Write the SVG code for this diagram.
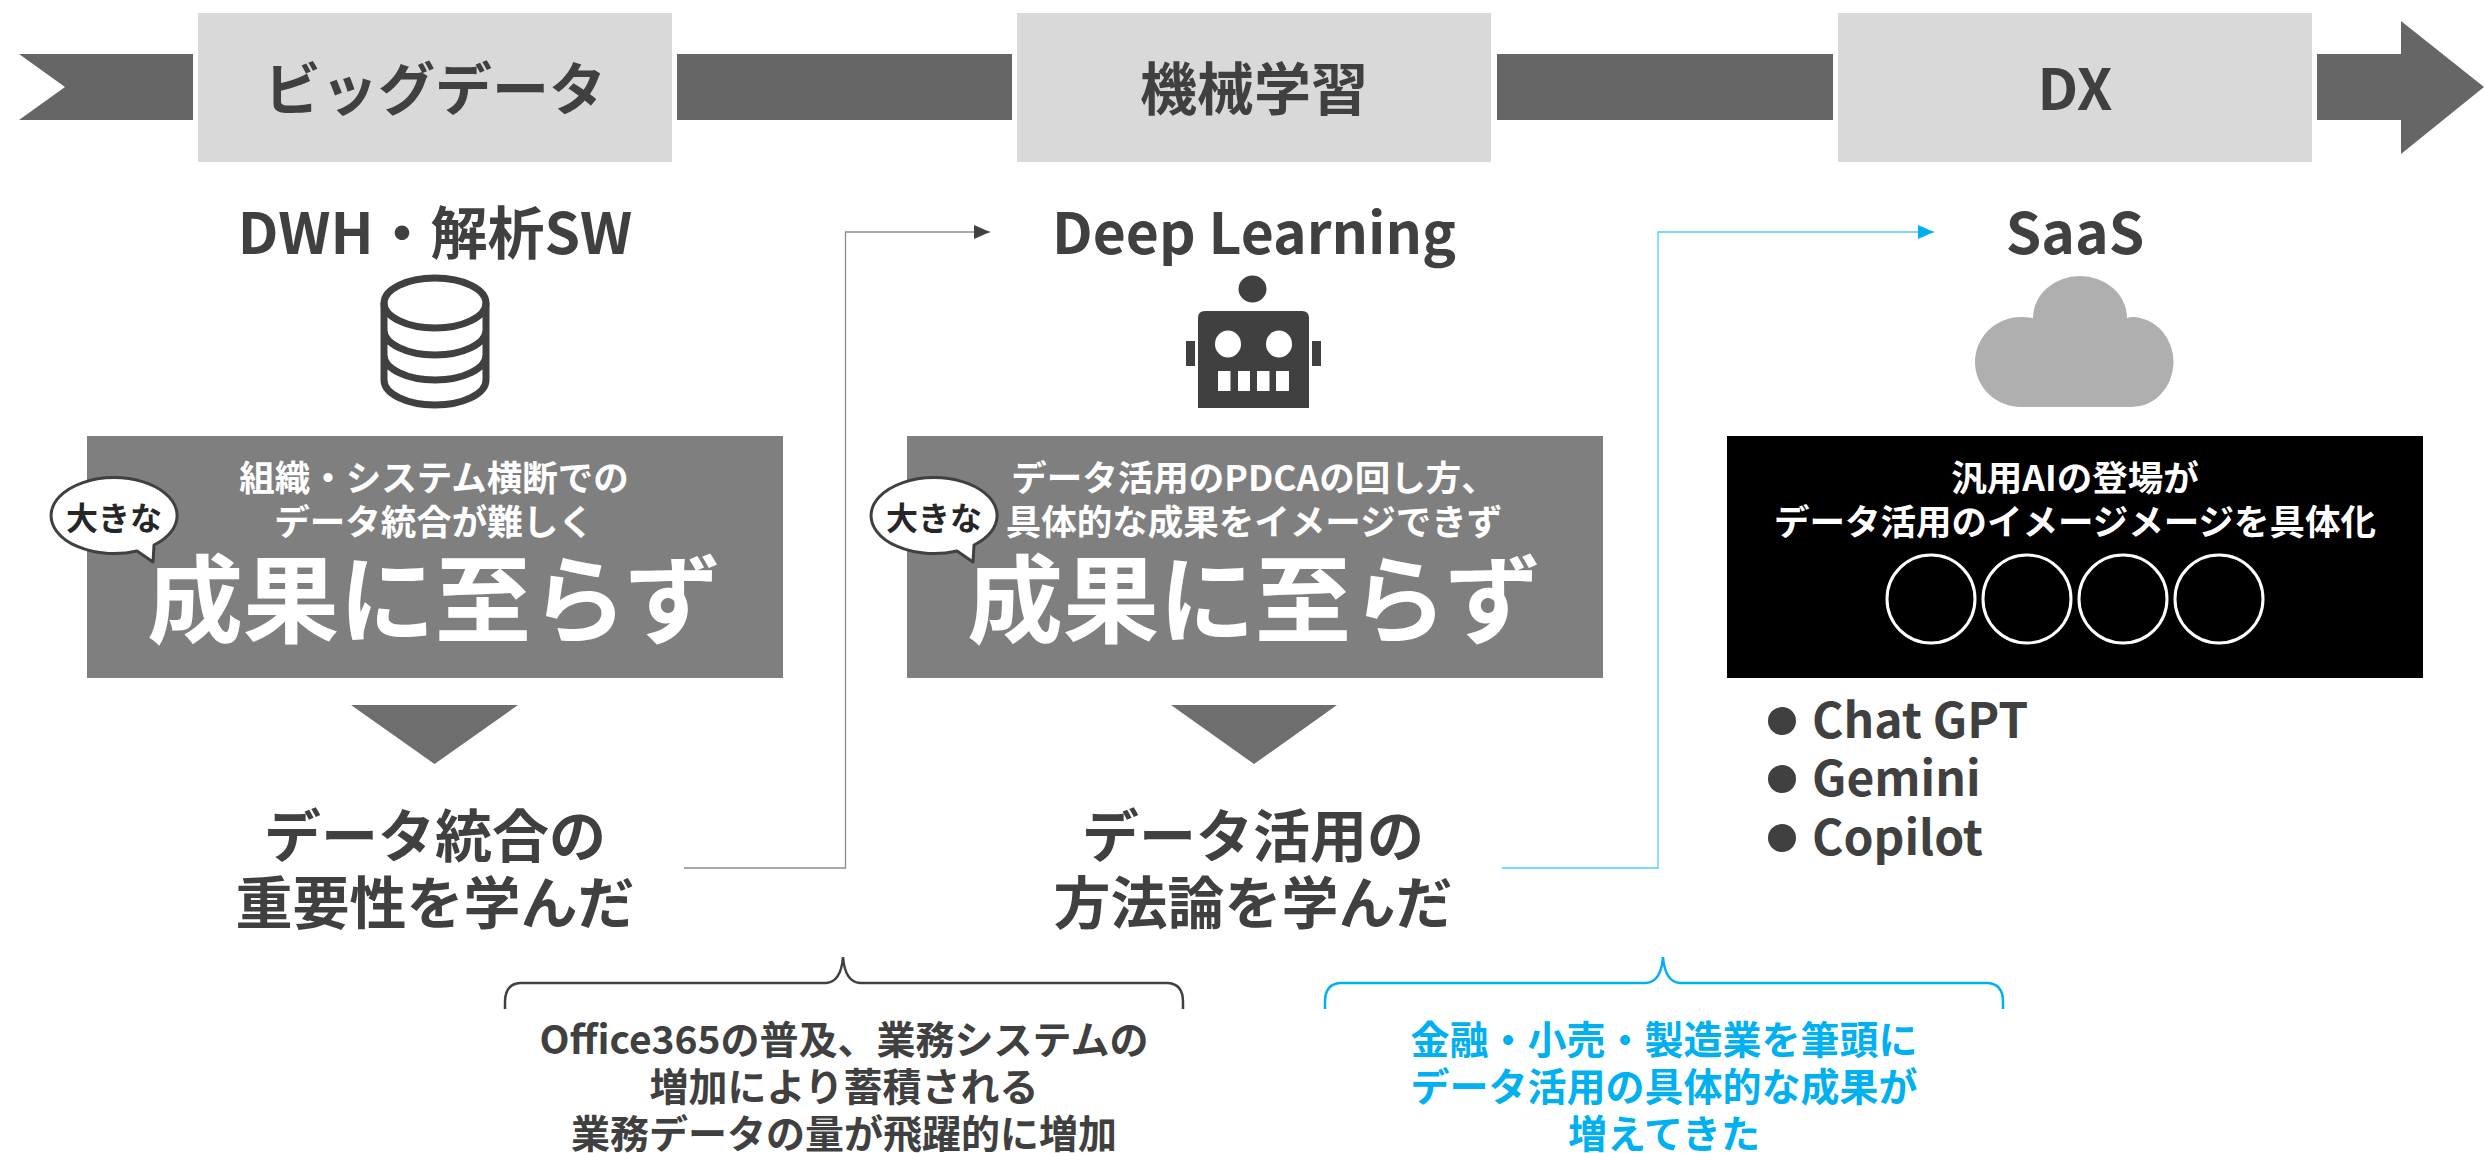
<svg xmlns="http://www.w3.org/2000/svg" width="2484" height="1153" viewBox="0 0 2484 1153">
<style>
text{font-family:"Noto Sans CJK JP","Noto Sans",sans-serif;font-weight:700;text-anchor:middle;fill:#404040}
.h{font-size:57px}
.w{fill:#fff;font-size:35.500px}
.big{fill:#fff;font-size:96px}
.bub{font-size:32px;fill:#262626}
.note{font-size:39px}
.c{fill:#00b0f0}
.li{font-size:48px;text-anchor:start}
.bar{fill:#666}
.tag{fill:#d9d9d9}
.box{fill:#7f7f7f}
.tri{fill:#6e6e6e}
.ic{fill:#404040}
.db{fill:none;stroke:#404040;stroke-width:7}
.ring{fill:none;stroke:#fff;stroke-width:3}
.line{fill:none;stroke:#8c8c8c;stroke-width:1.300}
.line2{fill:none;stroke:#4dcdf7;stroke-width:1.300}
.brace{fill:none;stroke:#404040;stroke-width:2.500}
.brace2{fill:none;stroke:#00b0f0;stroke-width:2.500}
</style>
<defs>
<marker id="ah" markerUnits="userSpaceOnUse" markerWidth="16" markerHeight="16" refX="16" refY="8" orient="auto"><path d="M0 1L16 8L0 15Z" fill="#404040"/></marker>
<marker id="ah2" markerUnits="userSpaceOnUse" markerWidth="16" markerHeight="16" refX="16" refY="8" orient="auto"><path d="M0 1L16 8L0 15Z" fill="#00b0f0"/></marker>
<g id="bubble"><path d="M957 551A63 38 0 1 1 974 545L973 562Z" fill="#fff" stroke="#404040" stroke-width="3" stroke-linejoin="round"/><text class="bub" x="934" y="530">大きな</text></g>
</defs>
<g id="timeline">
<path class="bar" d="M19 54H193V120H19L65 87Z"/>
<rect class="bar" x="677" y="54" width="335" height="66"/>
<rect class="bar" x="1497" y="54" width="336" height="66"/>
<path class="bar" d="M2317 54H2401V21L2484 87L2401 154V120H2317Z"/>
</g>
<g id="connectors">
<path class="line" d="M684 868H845.500V232H990" marker-end="url(#ah)"/>
<path class="line2" d="M1502 868H1658V232H1934" marker-end="url(#ah2)"/>
</g>
<g id="tag-bigdata"><rect class="tag" x="198" y="13" width="474" height="149"/><text class="h" x="435" y="110">ビッグデータ</text></g>
<g id="tag-ml"><rect class="tag" x="1017" y="13" width="474" height="149"/><text class="h" x="1254" y="110">機械学習</text></g>
<g id="tag-dx"><rect class="tag" x="1838" y="13" width="474" height="149"/><text class="h" x="2075" y="110">DX</text></g>
<g id="col-1">
<text class="h" x="435" y="254">DWH・解析SW</text>
<g id="icon-db"><ellipse class="db" cx="435" cy="303" rx="51" ry="25"/><path class="db" d="M384 303V380A51 25 0 0 0 486 380V303M384 330A51 25 0 0 0 486 330M384 355A51 25 0 0 0 486 355"/></g>
<rect class="box" x="87" y="436" width="696" height="242"/>
<text class="w" x="434" y="491">組織・システム横断での</text>
<text class="w" x="434" y="535">データ統合が難しく</text>
<text class="big" x="434" y="635">成果に至らず</text>
<use href="#bubble" x="-820"/>
<path class="tri" d="M351 705H518L434.500 764Z"/>
<text class="h" x="435" y="857">データ統合の</text>
<text class="h" x="435" y="924">重要性を学んだ</text>
</g>
<g id="col-2">
<text class="h" x="1254" y="254">Deep Learning</text>
<g id="icon-robot">
<ellipse class="ic" cx="1252.500" cy="289" rx="14" ry="13.500"/>
<path class="ic" fill-rule="evenodd" d="M1205 311H1302Q1309 311 1309 318V408H1198V318Q1198 311 1205 311ZM1218 371V391H1230.500V371ZM1238 371V391H1250V371ZM1257 371V391H1269.500V371ZM1276 371V391H1289V371Z"/>
<ellipse cx="1228" cy="344" rx="13" ry="13.500" fill="#fff"/><ellipse cx="1279" cy="344" rx="13" ry="13.500" fill="#fff"/>
<rect class="ic" x="1186" y="341" width="9" height="25"/><rect class="ic" x="1312" y="341" width="9" height="25"/>
</g>
<rect class="box" x="907" y="436" width="696" height="242"/>
<text class="w" x="1254" y="491">データ活用のPDCAの回し方、</text>
<text class="w" x="1254" y="535">具体的な成果をイメージできず</text>
<text class="big" x="1254" y="635">成果に至らず</text>
<use href="#bubble"/>
<path class="tri" d="M1171 705H1337L1254 764Z"/>
<text class="h" x="1253" y="857">データ活用の</text>
<text class="h" x="1253" y="924">方法論を学んだ</text>
</g>
<g id="col-3">
<text class="h" x="2075" y="254">SaaS</text>
<path id="icon-cloud" fill="#afafaf" d="M2021 407A46 45 0 0 1 2021 317Q2027 317 2033 318A47 42 0 0 1 2127 318Q2130 317 2133 317A42 45 0 0 1 2130 407Z"/>
<rect x="1727" y="436" width="696" height="242" fill="#000"/>
<text class="w" x="2075" y="491">汎用AIの登場が</text>
<text class="w" x="2075" y="535">データ活用のイメージメージを具体化</text>
<circle class="ring" cx="1931" cy="599" r="44"/><circle class="ring" cx="2027" cy="599" r="44"/><circle class="ring" cx="2123" cy="599" r="44"/><circle class="ring" cx="2219" cy="599" r="44"/>
<circle class="ic" cx="1782" cy="721" r="14"/><text class="li" x="1812" y="738">Chat GPT</text>
<circle class="ic" cx="1782" cy="779" r="14"/><text class="li" x="1812" y="796">Gemini</text>
<circle class="ic" cx="1782" cy="838" r="14"/><text class="li" x="1812" y="855">Copilot</text>
</g>
<g id="note-1">
<path class="brace" d="M505 1009V1002Q505 984 520 983H826Q841 982 843 957Q845 982 860 983H1168Q1183 984 1183 1002V1009"/>
<text class="note" x="844" y="1054">Office365の普及、業務システムの</text>
<text class="note" x="844" y="1101">増加により蓄積される</text>
<text class="note" x="844" y="1148">業務データの量が飛躍的に増加</text>
</g>
<g id="note-2">
<path class="brace2" d="M1325 1009V1002Q1325 984 1340 983H1646Q1661 982 1663 957Q1665 982 1680 983H1988Q2003 984 2003 1002V1009"/>
<text class="note c" x="1664" y="1054">金融・小売・製造業を筆頭に</text>
<text class="note c" x="1664" y="1101">データ活用の具体的な成果が</text>
<text class="note c" x="1664" y="1148">増えてきた</text>
</g>
</svg>
